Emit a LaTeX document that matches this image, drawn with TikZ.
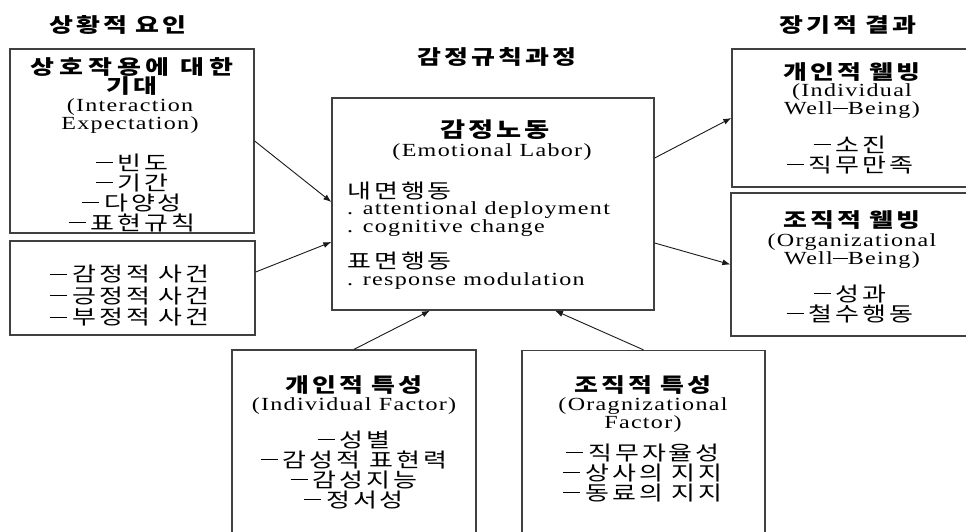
\documentclass[tikz,border=0pt]{standalone}
\usepackage{fontspec}
\setmainfont{Liberation Serif}[FakeStretch=1.3,LetterSpace=7]
\newfontfamily\kr{Noto Sans CJK KR}[FakeStretch=1.3,LetterSpace=15]
\usetikzlibrary{arrows.meta}
\newcommand{\dsh}{\rule[7pt]{17pt}{1.2pt}\hspace{5pt}}
\newcommand{\wdsh}{\rule[5.5pt]{15pt}{1.1pt}}
\tikzset{
  box/.style ={draw=black!75, line width=1.3pt, inner sep=0pt},
  ttl/.style ={font=\kr\bfseries\fontsize{20}{22}\selectfont, inner sep=0pt},
  hd/.style  ={font=\kr\bfseries\fontsize{20}{19}\selectfont, align=center, inner sep=0pt},
  en/.style  ={font=\fontsize{18.5}{17.5}\selectfont, align=center, inner sep=0pt},
  ls/.style  ={font=\kr\fontsize{20}{20}\selectfont, align=center, inner sep=0pt},
  e/.style   ={-{Latex[length=8pt,width=6pt]}, line width=0.9pt, draw=black!90},
}

\begin{document}
\begin{tikzpicture}[x=1pt,y=-1pt]
\useasboundingbox (0,0) rectangle (966,531);
\clip (0,0) rectangle (966,531);
% column titles
\node[ttl] (t1) at (118,25) {상황적 요인};
\node[ttl] (t2) at (497,57) {감정규칙과정};
\node[ttl] (t3) at (848,25) {장기적 결과};
% boxes
\node[box, minimum width=244pt, minimum height=184pt] (ie) at (132,141) {};
\node[box, minimum width=245pt, minimum height=94pt] (ev) at (132.5,288) {};
\node[box, minimum width=322pt, minimum height=212pt] (el) at (493,204) {};
\node[box, minimum width=240pt, minimum height=138pt] (iw) at (852,118) {};
\node[box, minimum width=241pt, minimum height=143pt] (ow) at (851.5,264.5) {};
\node[box, minimum width=244pt, minimum height=190pt] (ind) at (354,445) {};
\node[box, minimum width=243pt, minimum height=190pt] (org) at (643.5,445.5) {};
% situational factors
\node[hd] (ieh) at (132,76.5) {{\addfontfeature{LetterSpace=25}상호작용에 대한}\\기대};
\node[en] (iee) at (130,116) {(Interaction\\Expectation)};
\node[ls] (iel) at (132,193) {\dsh 빈도\\\dsh 기간\\\dsh 다양성\\\dsh 표현규칙};
\node[ls, font=\kr\fontsize{20}{21.5}\selectfont] (evl) at (130,296) {\dsh 감정적 사건\\\dsh 긍정적 사건\\\dsh 부정적 사건};
% emotional labor
\node[hd, font=\kr\bfseries\fontsize{21}{22}\selectfont] (elh) at (495,130) {감정노동};
\node[en] (ele) at (492,152) {(Emotional Labor)};
\node[ls, anchor=west] (deep) at (347,191) {내면행동};
\node[en, anchor=west, align=left] (deepl) at (347,219) {. attentional deployment\\. cognitive change};
\node[ls, anchor=west] (surf) at (347,261) {표면행동};
\node[en, anchor=west] (surfl) at (347,281) {. response modulation};
% long-term outcomes
\node[hd] (iwh) at (852,72) {개인적 웰빙};
\node[en] (iwe) at (852,101) {(Individual\\Well\wdsh Being)};
\node[ls] (iwl) at (850,155) {\dsh 소진\\\dsh 직무만족};
\node[hd] (owh) at (852,220) {조직적 웰빙};
\node[en] (owe) at (852,251) {(Organizational\\Well\wdsh Being)};
\node[ls] (owl) at (850,304) {\dsh 성과\\\dsh 철수행동};
% individual / organizational factors
\node[hd] (indh) at (354,385) {개인적 특성};
\node[en] (inde) at (354,406) {(Individual Factor)};
\node[ls] (indl) at (354,470) {\dsh 성별\\\dsh 감성적 표현력\\\dsh 감성지능\\\dsh 정서성};
\node[hd] (orgh) at (643,385) {조직적 특성};
\node[en] (orge) at (643,415) {(Oragnizational\\Factor)};
\node[ls] (orgl) at (643,473) {\dsh 직무자율성\\\dsh 상사의 지지\\\dsh 동료의 지지};
% arrows
\draw[e] (ie.east) -- ([yshift=2pt]el.west);
\draw[e] ([yshift=16pt]ev.east) -- ([yshift=-38pt]el.west);
\draw[e] ([yshift=46pt]el.east) -- (iw.west);
\draw[e] ([yshift=-39pt]el.east) -- (ow.west);
\draw[e] (ind.north) -- ([xshift=-63pt]el.south);
\draw[e] (org.north) -- ([xshift=62pt]el.south);
\end{tikzpicture}
\end{document}
